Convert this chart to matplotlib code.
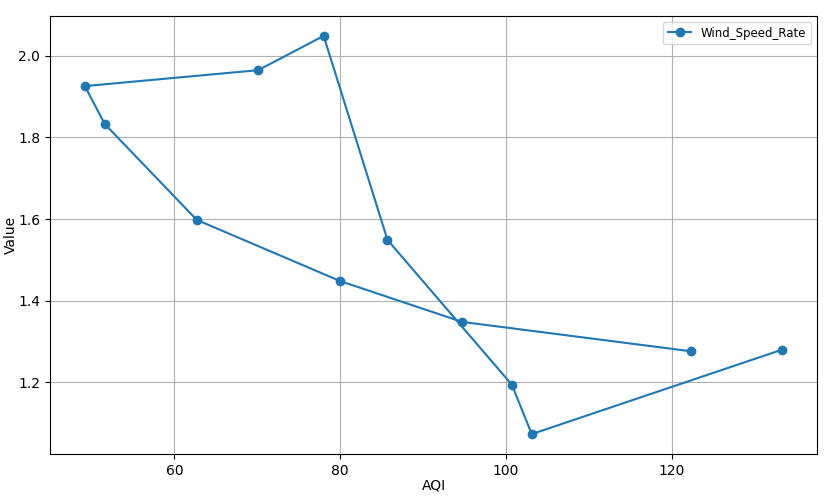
import matplotlib
matplotlib.use("Agg")
import matplotlib.pyplot as plt

# AQI vs wind speed rate, in data order
aqi = [122.3, 94.7, 80.0, 62.7, 51.6, 49.2, 70.1, 78.0, 85.7, 100.7, 103.1, 133.3]
wind_speed_rate = [1.276, 1.348, 1.448, 1.598, 1.833, 1.926, 1.965, 2.049, 1.549, 1.194, 1.073, 1.280]

fig = plt.figure(figsize=(8.26, 4.96), dpi=100)
ax = fig.add_axes([50 / 826, 42 / 496, 767 / 826, 438 / 496])

ax.plot(aqi, wind_speed_rate, marker="o", label="Wind_Speed_Rate")
ax.set_xlabel("AQI", labelpad=0.5)
ax.set_ylabel("Value", labelpad=0)
ax.grid(True)
ax.legend(loc="upper right", fontsize=8.5)

fig.savefig("out.png", dpi=100)
